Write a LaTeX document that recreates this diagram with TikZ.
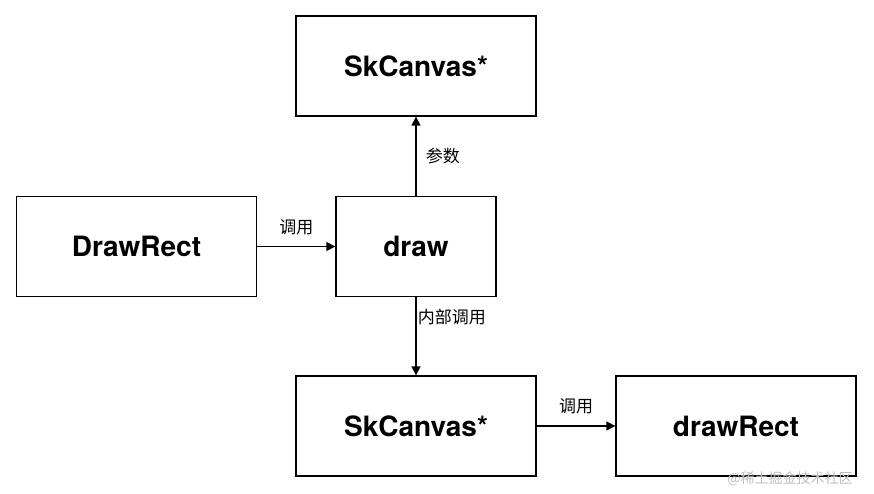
\documentclass[tikz,border=0pt]{standalone}
\usepackage{fontspec}
\setmainfont{TeX Gyre Heros}
\newfontfamily\cjk{Noto Sans CJK SC}
\usetikzlibrary{arrows.meta}
\begin{document}
\begin{tikzpicture}[x=1pt,y=-1pt,
  box/.style={draw,line width=1.3pt,minimum width=240pt,minimum height=100pt,inner sep=0pt,font=\fontsize{28}{32}\selectfont\bfseries},
  lbl/.style={font=\cjk\fontsize{17}{20}\selectfont},
  arr/.style={-{Triangle[length=9pt,width=9pt]},line width=1.3pt}]
\useasboundingbox[fill=white] (0,0) rectangle (874,494);
\node[box] (top) at (416,66) {SkCanvas*};
\node[box] (dr) at (136.5,246.5) {DrawRect};
\node[box,minimum width=160pt] (draw) at (416,246.5) {draw};
\node[box] (bot) at (416,426) {SkCanvas*};
\node[box] (dR) at (736,426) {drawRect};
\draw[arr] (dr) -- (draw) node[lbl,midway,above=8pt] {调用};
\draw[arr] (draw) -- (top) node[lbl,midway,right=6pt] {参数};
\draw[arr] (draw) -- (bot) node[lbl,pos=0.25,right=-2pt] {内部调用};
\draw[arr] (bot) -- (dR) node[lbl,midway,above=8pt] {调用};
\node[lbl,text=gray!50,font=\cjk\fontsize{14}{16}\selectfont] (wm) at (790,479) {@稀土掘金技术社区};
\end{tikzpicture}
\end{document}
